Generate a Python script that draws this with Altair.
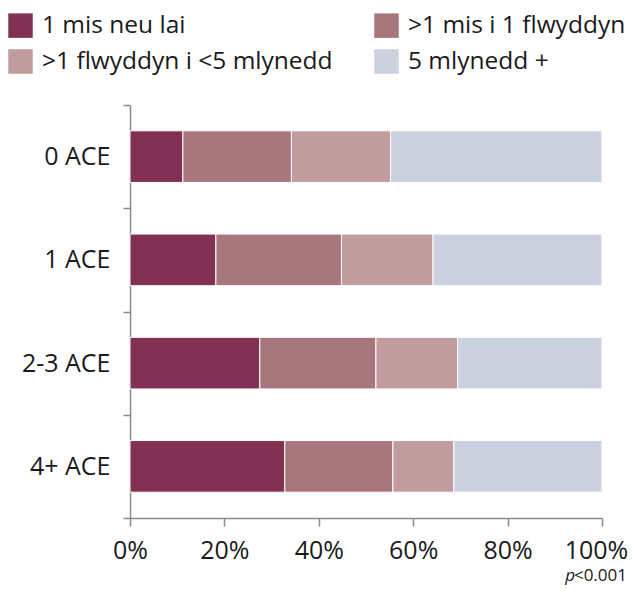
import altair as alt
import pandas as pd

categories = ["0 ACE", "1 ACE", "2-3 ACE", "4+ ACE"]
series = ["1 mis neu lai", ">1 mis i 1 flwyddyn", ">1 flwyddyn i <5 mlynedd", "5 mlynedd +"]
colors = ["#823152", "#A8777D", "#C19C9F", "#CBD1DF"]
values = {
    "1 mis neu lai": [11.2, 18.2, 27.5, 32.8],
    ">1 mis i 1 flwyddyn": [23.0, 26.6, 24.6, 22.9],
    ">1 flwyddyn i <5 mlynedd": [21.0, 19.4, 17.3, 12.9],
    "5 mlynedd +": [44.8, 35.8, 30.6, 31.4],
}
x_ticks = [0, 20, 40, 60, 80, 100]

rows = []
for si, s in enumerate(series):
    for ci, c in enumerate(categories):
        rows.append({"cat": c, "series": s, "order": si, "value": values[s][ci]})
df = pd.DataFrame(rows)

FONT = "Open Sans"
AX = "#8a8a8a"
TXT = "#1a1a1a"

bars = alt.Chart(df).mark_bar(stroke="white", strokeWidth=1,
                              height=alt.RelativeBandSize(0.5)).encode(
    y=alt.Y("cat:N", sort=categories,
            scale=alt.Scale(paddingInner=0, paddingOuter=0),
            axis=alt.Axis(title=None, tickBand="extent", tickSize=7, labelPadding=13,
                          labelFontSize=25, labelFont=FONT, labelColor=TXT,
                          domainColor=AX, tickColor=AX, domainWidth=1.5, tickWidth=1.5)),
    x=alt.X("value:Q", stack="zero", scale=alt.Scale(domain=[0, 100], nice=False),
            axis=alt.Axis(title=None, values=x_ticks, labelExpr="datum.value + '%'",
                          grid=False, tickSize=8, labelPadding=12, labelFontSize=25,
                          labelOffset=alt.condition("datum.value == 100", alt.value(-6), alt.value(0)),
                          labelFont=FONT, labelColor=TXT, domainColor=AX, tickColor=AX,
                          domainWidth=1.5, tickWidth=1.5, labelFlush=False)),
    color=alt.Color("series:N", sort=series,
                    scale=alt.Scale(domain=series, range=colors),
                    legend=alt.Legend(title=None, orient="none", legendX=-122, legendY=-92,
                                      columns=2, direction="horizontal",
                                      columnPadding=41, rowPadding=10,
                                      symbolType="square", symbolSize=600, symbolStrokeWidth=0,
                                      labelFontSize=24.5, labelFont=FONT, labelColor=TXT,
                                      labelOffset=9, labelLimit=400, padding=0)),
    order=alt.Order("order:Q", sort="ascending"),
)

p_text = alt.Chart(pd.DataFrame({"t": ["p"]})).mark_text(
    fontSize=17, font=FONT, fontStyle="italic", align="right", baseline="alphabetic", color=TXT
).encode(x=alt.value(445), y=alt.value(476), text="t:N")
p_rest = alt.Chart(pd.DataFrame({"t": ["<0.001"]})).mark_text(
    fontSize=17, font=FONT, align="right", baseline="alphabetic", color=TXT
).encode(x=alt.value(497), y=alt.value(476), text="t:N")

chart = alt.layer(bars, p_text, p_rest).properties(
    width=472, height=413,
    autosize=alt.AutoSizeParams(type="none"),
    padding={"left": 122, "top": 97, "right": 26, "bottom": 67},
).configure_view(stroke=None)

chart.save("out.html", embed_options={"renderer": "svg", "actions": False})
